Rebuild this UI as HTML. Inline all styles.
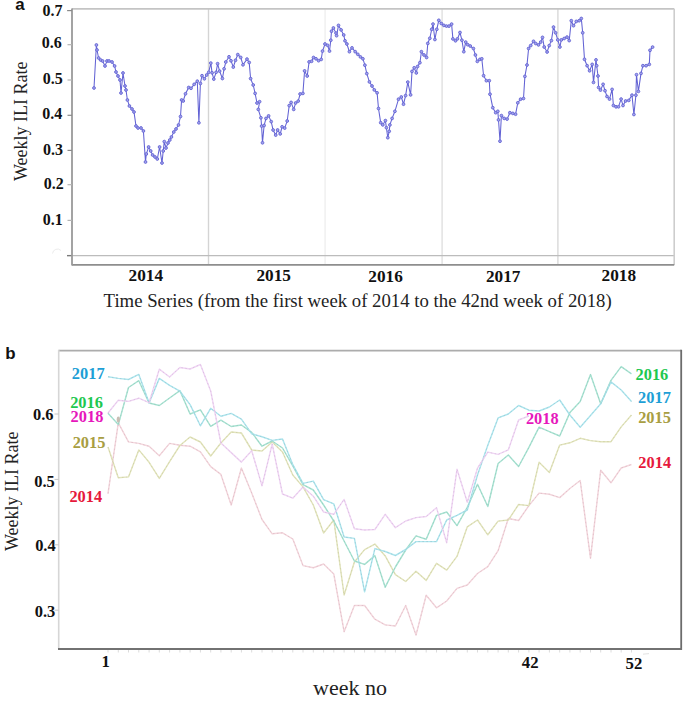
<!DOCTYPE html>
<html><head><meta charset="utf-8"><style>
html,body{margin:0;padding:0;background:#fff;width:685px;height:701px;overflow:hidden}
svg{display:block}
.s{font-family:"Liberation Serif",serif}
.b{font-family:"Liberation Serif",serif;font-weight:bold}
.ss{font-family:"Liberation Sans",sans-serif;font-weight:bold}
</style></head><body>
<svg width="685" height="701" viewBox="0 0 685 701">
<!-- Panel a -->
<text x="15.3" y="10.45" font-size="16.9" class="ss" fill="#111">a</text>
<text x="42.6" y="15.97" font-size="16.0" class="b" fill="#111">0.7</text>
<text x="41.75" y="47.8" font-size="16.0" class="b" fill="#111">0.6</text>
<text x="42.75" y="83.5" font-size="16.0" class="b" fill="#111">0.5</text>
<text x="42.15" y="119.4" font-size="16.0" class="b" fill="#111">0.4</text>
<text x="43.0" y="155.0" font-size="16.0" class="b" fill="#111">0.3</text>
<text x="43.75" y="188.8" font-size="16.0" class="b" fill="#111">0.2</text>
<text x="42.85" y="224.9" font-size="16.0" class="b" fill="#111">0.1</text>
<text x="128.55" y="281.45" font-size="17.25" class="b" fill="#111">2014</text>
<text x="256.45" y="281.45" font-size="17.25" class="b" fill="#111">2015</text>
<text x="368.35" y="281.85" font-size="17.25" class="b" fill="#111">2016</text>
<text x="485.95" y="281.85" font-size="17.25" class="b" fill="#111">2017</text>
<text x="601.55" y="281.3" font-size="17.25" class="b" fill="#111">2018</text>
<text x="5.25" y="358.75" font-size="16.9" class="ss" fill="#111">b</text>
<text x="32.95" y="420.15" font-size="16.45" class="b" fill="#111">0.6</text>
<text x="34.25" y="486.55" font-size="16.45" class="b" fill="#111">0.5</text>
<text x="35.15" y="551.25" font-size="16.45" class="b" fill="#111">0.4</text>
<text x="34.75" y="616.8" font-size="16.45" class="b" fill="#111">0.3</text>
<text x="71.8" y="379.2" font-size="16.4" class="b" fill="#1e9fd6">2017</text>
<text x="70.15" y="408.1" font-size="16.4" class="b" fill="#1ec850">2016</text>
<text x="70.6" y="421.75" font-size="16.4" class="b" fill="#e618bc">2018</text>
<text x="72.65" y="447.8" font-size="16.4" class="b" fill="#a89e42">2015</text>
<text x="69.4" y="501.9" font-size="16.4" class="b" fill="#e6193c">2014</text>
<text x="635.5" y="379.65" font-size="16.4" class="b" fill="#1ec850">2016</text>
<text x="638.1" y="403.05" font-size="16.4" class="b" fill="#1e9fd6">2017</text>
<text x="638.15" y="423.3" font-size="16.4" class="b" fill="#a89e42">2015</text>
<text x="638.3" y="468.15" font-size="16.4" class="b" fill="#e6193c">2014</text>
<text x="525.9" y="424.2" font-size="16.4" class="b" fill="#e618bc">2018</text>
<text x="101.4" y="666.7" font-size="16.75" class="b" fill="#111">1</text>
<text x="521.8" y="667.6" font-size="16.75" class="b" fill="#111">42</text>
<text x="625.5" y="669.3" font-size="16.75" class="b" fill="#111">52</text>

<g stroke-width="1.4">
<line x1="208.5" y1="9" x2="208.5" y2="264" stroke="#d4d4d4"/>
<line x1="325.1" y1="9" x2="325.1" y2="264" stroke="#efefef"/>
<line x1="442.1" y1="9" x2="442.1" y2="264" stroke="#e0e0e0"/>
<line x1="557.9" y1="9" x2="557.9" y2="264" stroke="#d9d9d9"/>
</g>
<line x1="67" y1="255.6" x2="674.2" y2="255.6" stroke="#bcbcbc" stroke-width="1.2"/>
<line x1="67" y1="255.6" x2="72" y2="255.6" stroke="#7a7a7a" stroke-width="1.3"/>
<line x1="72" y1="8.8" x2="674.2" y2="8.8" stroke="#c4c4c4" stroke-width="1.7"/>
<line x1="674.2" y1="8.8" x2="674.2" y2="264.9" stroke="#cdcdcd" stroke-width="1.6"/>
<line x1="72" y1="264.9" x2="674.2" y2="264.9" stroke="#8e8e8e" stroke-width="1.9"/>
<line x1="72" y1="8.5" x2="72" y2="265.5" stroke="#999" stroke-width="1.8"/>
<g stroke="#b4b4b4" stroke-width="1.2">
<line x1="67.1" y1="10.6" x2="72" y2="10.6" stroke="#8a8a8a"/>
<line x1="67.5" y1="44.7" x2="72" y2="44.7"/>
<line x1="67.5" y1="80" x2="72" y2="80"/>
<line x1="67.5" y1="115.3" x2="72" y2="115.3" stroke="#8a8a8a"/>
<line x1="67.5" y1="150.4" x2="72" y2="150.4" stroke="#8a8a8a"/>
<line x1="67.5" y1="184.7" x2="72" y2="184.7"/>
<line x1="67.5" y1="220.4" x2="72" y2="220.4"/>
</g>
<text class="s" font-size="18" fill="#222" transform="translate(27.1,181) rotate(-90)">Weekly ILI Rate</text>
<g style="filter:blur(0.3px)"><polyline points="94,88 96.4,45 97,50 98.6,58 100.6,60 102.6,61 105,66 107,61 109,61 112,62 114.6,66 116,72 118,76 120,80 121,93 123,73 125,86 126,90 127.4,100 129.4,106 132,109 134,112 136,126 138,128 141,128 143.4,131 145.5,162 146.3,154 148.6,147 150.7,151 152.6,155 155,157 157.3,159 159.6,147 162,163 163.2,151 164.3,141.6 166,148 168,143 169.8,140 171.4,137 173.8,132 176,129 178.5,125 180.5,116.5 181.6,100 183.2,101 185.5,93.8 188.7,87.5 191,88.3 194.2,84.3 197.3,81.2 198.9,122.8 200.4,83.5 202,75.7 204.4,78.8 206.7,75 208.7,72.3 210.8,63.1 212.1,72.8 213.8,79.1 216.1,72.3 217.6,63.7 219.6,71.1 222.4,78.5 224.1,68.8 225.8,62 229,56.8 231,60.8 233.3,67.1 235.5,60.3 237.8,54.6 240.7,57.4 243,64.8 247,59.1 249.2,62.5 250.6,78.6 253.2,85 255.1,93.4 257,103 259.6,101.7 258.3,109.4 260.9,117.8 261.6,126.1 262.5,142.8 264.1,125.5 266,118.4 268.6,115.9 271.2,121.6 273.1,130 275.7,135.1 277.6,130 280.2,133.9 282.1,126.8 284.7,128.1 287.2,121 289.2,105.6 291.1,102.4 293.7,109.4 295.6,103 298.2,101.1 300.1,94 302.9,93.4 304.6,70.9 307.2,76 309.1,61.9 311.6,61.3 313.5,57.5 316,58.8 318.6,60.7 321.2,59.4 322.5,51.1 325,44 327.6,45.3 329.5,51.1 330.8,40.2 331.5,31.2 333.4,28 336,33.1 336.6,35.7 338.5,25.4 341.1,29.9 343.7,35 345,40.8 346.9,44 349.4,51.7 352,47.9 355.2,51.7 357.8,54.3 360.4,56.9 362.9,58.8 364.9,65.2 366.8,73.6 369.4,81.9 372,86 374.3,89.9 377.1,92.8 378.5,108.5 380.7,122.7 382.8,124.9 385.4,120.6 386.4,127.7 387.8,137.7 389.2,131.3 389.9,124.9 392.1,118.4 394.9,111.3 398.5,99.2 401.3,97 403.5,104.2 405.6,95.6 407.8,82.1 410.6,94.9 412,71.4 414.2,67.8 416.3,72.9 417.6,66.5 419.9,62.7 421.4,51.7 424,55 426.6,57.5 427.8,43.4 429.8,38.3 431.7,29.3 433,24.1 434.9,39.5 436.8,29.3 438.8,20.3 441.3,23.5 443.9,25.4 446.5,26.1 449,26.1 451.6,24.1 452.9,38.9 455.5,40.8 457.4,38.9 460,32.5 461.9,40.2 463.8,51.7 465.7,42.1 467.7,44.7 470.2,46 473.4,48.5 475.4,55 477.3,61.4 479.9,59.4 481.8,58.8 483.6,75.7 486.4,80.7 489.3,80.7 490,94.2 492.8,107.7 495.7,112.7 497.8,111.3 498.5,119.9 500,141.2 501.4,115.6 504.2,118.4 507.1,119.1 509.9,112.7 512.8,113.4 515.6,114.2 517.8,102.8 520.6,99.2 523.5,98.5 524.9,76.4 527,65 528.6,48.5 530.7,45.6 533.5,41.3 535.7,43.5 538.5,44.9 540.7,42.1 542.5,37.4 544.2,47 547.1,52 549.2,45.6 551.4,40.6 553.5,27.1 555.6,32.8 557.8,39.9 559.9,47 561.3,39.9 564.2,38.5 567,37.1 569.2,40.6 571.3,20.7 573.5,25.7 576.3,21.4 579.2,20.7 581.3,18.5 582.7,32.8 584.5,59.3 587.1,65.7 589.6,70.8 592.2,64.4 593.5,82.4 596,59.9 596.7,65.7 598,76 598.6,87.5 600.5,90.1 603.1,84.3 605,90.7 607,96.5 609.5,99.1 612.1,89.4 613.4,105.5 616,106.8 618.5,106.8 621.1,99.1 623,105.5 625.6,101 628.8,100.4 632,95.2 633.9,114.5 635.9,95.2 636.5,74.7 638.4,91.4 641,73.4 642.9,65.7 646.1,65.7 649.3,64.4 650,50.3 652.6,47.1" fill="none" stroke="#6262d4" stroke-width="1.05"/>
<g fill="#a4a4ec" stroke="#6464d4" stroke-width="0.9"><circle cx="94" cy="88" r="1.4"/><circle cx="96.4" cy="45" r="1.4"/><circle cx="97" cy="50" r="1.4"/><circle cx="98.6" cy="58" r="1.4"/><circle cx="100.6" cy="60" r="1.4"/><circle cx="102.6" cy="61" r="1.4"/><circle cx="105" cy="66" r="1.4"/><circle cx="107" cy="61" r="1.4"/><circle cx="109" cy="61" r="1.4"/><circle cx="112" cy="62" r="1.4"/><circle cx="114.6" cy="66" r="1.4"/><circle cx="116" cy="72" r="1.4"/><circle cx="118" cy="76" r="1.4"/><circle cx="120" cy="80" r="1.4"/><circle cx="121" cy="93" r="1.4"/><circle cx="123" cy="73" r="1.4"/><circle cx="125" cy="86" r="1.4"/><circle cx="126" cy="90" r="1.4"/><circle cx="127.4" cy="100" r="1.4"/><circle cx="129.4" cy="106" r="1.4"/><circle cx="132" cy="109" r="1.4"/><circle cx="134" cy="112" r="1.4"/><circle cx="136" cy="126" r="1.4"/><circle cx="138" cy="128" r="1.4"/><circle cx="141" cy="128" r="1.4"/><circle cx="143.4" cy="131" r="1.4"/><circle cx="145.5" cy="162" r="1.4"/><circle cx="146.3" cy="154" r="1.4"/><circle cx="148.6" cy="147" r="1.4"/><circle cx="150.7" cy="151" r="1.4"/><circle cx="152.6" cy="155" r="1.4"/><circle cx="155" cy="157" r="1.4"/><circle cx="157.3" cy="159" r="1.4"/><circle cx="159.6" cy="147" r="1.4"/><circle cx="162" cy="163" r="1.4"/><circle cx="163.2" cy="151" r="1.4"/><circle cx="164.3" cy="141.6" r="1.4"/><circle cx="166" cy="148" r="1.4"/><circle cx="168" cy="143" r="1.4"/><circle cx="169.8" cy="140" r="1.4"/><circle cx="171.4" cy="137" r="1.4"/><circle cx="173.8" cy="132" r="1.4"/><circle cx="176" cy="129" r="1.4"/><circle cx="178.5" cy="125" r="1.4"/><circle cx="180.5" cy="116.5" r="1.4"/><circle cx="181.6" cy="100" r="1.4"/><circle cx="183.2" cy="101" r="1.4"/><circle cx="185.5" cy="93.8" r="1.4"/><circle cx="188.7" cy="87.5" r="1.4"/><circle cx="191" cy="88.3" r="1.4"/><circle cx="194.2" cy="84.3" r="1.4"/><circle cx="197.3" cy="81.2" r="1.4"/><circle cx="198.9" cy="122.8" r="1.4"/><circle cx="200.4" cy="83.5" r="1.4"/><circle cx="202" cy="75.7" r="1.4"/><circle cx="204.4" cy="78.8" r="1.4"/><circle cx="206.7" cy="75" r="1.4"/><circle cx="208.7" cy="72.3" r="1.4"/><circle cx="210.8" cy="63.1" r="1.4"/><circle cx="212.1" cy="72.8" r="1.4"/><circle cx="213.8" cy="79.1" r="1.4"/><circle cx="216.1" cy="72.3" r="1.4"/><circle cx="217.6" cy="63.7" r="1.4"/><circle cx="219.6" cy="71.1" r="1.4"/><circle cx="222.4" cy="78.5" r="1.4"/><circle cx="224.1" cy="68.8" r="1.4"/><circle cx="225.8" cy="62" r="1.4"/><circle cx="229" cy="56.8" r="1.4"/><circle cx="231" cy="60.8" r="1.4"/><circle cx="233.3" cy="67.1" r="1.4"/><circle cx="235.5" cy="60.3" r="1.4"/><circle cx="237.8" cy="54.6" r="1.4"/><circle cx="240.7" cy="57.4" r="1.4"/><circle cx="243" cy="64.8" r="1.4"/><circle cx="247" cy="59.1" r="1.4"/><circle cx="249.2" cy="62.5" r="1.4"/><circle cx="250.6" cy="78.6" r="1.4"/><circle cx="253.2" cy="85" r="1.4"/><circle cx="255.1" cy="93.4" r="1.4"/><circle cx="257" cy="103" r="1.4"/><circle cx="259.6" cy="101.7" r="1.4"/><circle cx="258.3" cy="109.4" r="1.4"/><circle cx="260.9" cy="117.8" r="1.4"/><circle cx="261.6" cy="126.1" r="1.4"/><circle cx="262.5" cy="142.8" r="1.4"/><circle cx="264.1" cy="125.5" r="1.4"/><circle cx="266" cy="118.4" r="1.4"/><circle cx="268.6" cy="115.9" r="1.4"/><circle cx="271.2" cy="121.6" r="1.4"/><circle cx="273.1" cy="130" r="1.4"/><circle cx="275.7" cy="135.1" r="1.4"/><circle cx="277.6" cy="130" r="1.4"/><circle cx="280.2" cy="133.9" r="1.4"/><circle cx="282.1" cy="126.8" r="1.4"/><circle cx="284.7" cy="128.1" r="1.4"/><circle cx="287.2" cy="121" r="1.4"/><circle cx="289.2" cy="105.6" r="1.4"/><circle cx="291.1" cy="102.4" r="1.4"/><circle cx="293.7" cy="109.4" r="1.4"/><circle cx="295.6" cy="103" r="1.4"/><circle cx="298.2" cy="101.1" r="1.4"/><circle cx="300.1" cy="94" r="1.4"/><circle cx="302.9" cy="93.4" r="1.4"/><circle cx="304.6" cy="70.9" r="1.4"/><circle cx="307.2" cy="76" r="1.4"/><circle cx="309.1" cy="61.9" r="1.4"/><circle cx="311.6" cy="61.3" r="1.4"/><circle cx="313.5" cy="57.5" r="1.4"/><circle cx="316" cy="58.8" r="1.4"/><circle cx="318.6" cy="60.7" r="1.4"/><circle cx="321.2" cy="59.4" r="1.4"/><circle cx="322.5" cy="51.1" r="1.4"/><circle cx="325" cy="44" r="1.4"/><circle cx="327.6" cy="45.3" r="1.4"/><circle cx="329.5" cy="51.1" r="1.4"/><circle cx="330.8" cy="40.2" r="1.4"/><circle cx="331.5" cy="31.2" r="1.4"/><circle cx="333.4" cy="28" r="1.4"/><circle cx="336" cy="33.1" r="1.4"/><circle cx="336.6" cy="35.7" r="1.4"/><circle cx="338.5" cy="25.4" r="1.4"/><circle cx="341.1" cy="29.9" r="1.4"/><circle cx="343.7" cy="35" r="1.4"/><circle cx="345" cy="40.8" r="1.4"/><circle cx="346.9" cy="44" r="1.4"/><circle cx="349.4" cy="51.7" r="1.4"/><circle cx="352" cy="47.9" r="1.4"/><circle cx="355.2" cy="51.7" r="1.4"/><circle cx="357.8" cy="54.3" r="1.4"/><circle cx="360.4" cy="56.9" r="1.4"/><circle cx="362.9" cy="58.8" r="1.4"/><circle cx="364.9" cy="65.2" r="1.4"/><circle cx="366.8" cy="73.6" r="1.4"/><circle cx="369.4" cy="81.9" r="1.4"/><circle cx="372" cy="86" r="1.4"/><circle cx="374.3" cy="89.9" r="1.4"/><circle cx="377.1" cy="92.8" r="1.4"/><circle cx="378.5" cy="108.5" r="1.4"/><circle cx="380.7" cy="122.7" r="1.4"/><circle cx="382.8" cy="124.9" r="1.4"/><circle cx="385.4" cy="120.6" r="1.4"/><circle cx="386.4" cy="127.7" r="1.4"/><circle cx="387.8" cy="137.7" r="1.4"/><circle cx="389.2" cy="131.3" r="1.4"/><circle cx="389.9" cy="124.9" r="1.4"/><circle cx="392.1" cy="118.4" r="1.4"/><circle cx="394.9" cy="111.3" r="1.4"/><circle cx="398.5" cy="99.2" r="1.4"/><circle cx="401.3" cy="97" r="1.4"/><circle cx="403.5" cy="104.2" r="1.4"/><circle cx="405.6" cy="95.6" r="1.4"/><circle cx="407.8" cy="82.1" r="1.4"/><circle cx="410.6" cy="94.9" r="1.4"/><circle cx="412" cy="71.4" r="1.4"/><circle cx="414.2" cy="67.8" r="1.4"/><circle cx="416.3" cy="72.9" r="1.4"/><circle cx="417.6" cy="66.5" r="1.4"/><circle cx="419.9" cy="62.7" r="1.4"/><circle cx="421.4" cy="51.7" r="1.4"/><circle cx="424" cy="55" r="1.4"/><circle cx="426.6" cy="57.5" r="1.4"/><circle cx="427.8" cy="43.4" r="1.4"/><circle cx="429.8" cy="38.3" r="1.4"/><circle cx="431.7" cy="29.3" r="1.4"/><circle cx="433" cy="24.1" r="1.4"/><circle cx="434.9" cy="39.5" r="1.4"/><circle cx="436.8" cy="29.3" r="1.4"/><circle cx="438.8" cy="20.3" r="1.4"/><circle cx="441.3" cy="23.5" r="1.4"/><circle cx="443.9" cy="25.4" r="1.4"/><circle cx="446.5" cy="26.1" r="1.4"/><circle cx="449" cy="26.1" r="1.4"/><circle cx="451.6" cy="24.1" r="1.4"/><circle cx="452.9" cy="38.9" r="1.4"/><circle cx="455.5" cy="40.8" r="1.4"/><circle cx="457.4" cy="38.9" r="1.4"/><circle cx="460" cy="32.5" r="1.4"/><circle cx="461.9" cy="40.2" r="1.4"/><circle cx="463.8" cy="51.7" r="1.4"/><circle cx="465.7" cy="42.1" r="1.4"/><circle cx="467.7" cy="44.7" r="1.4"/><circle cx="470.2" cy="46" r="1.4"/><circle cx="473.4" cy="48.5" r="1.4"/><circle cx="475.4" cy="55" r="1.4"/><circle cx="477.3" cy="61.4" r="1.4"/><circle cx="479.9" cy="59.4" r="1.4"/><circle cx="481.8" cy="58.8" r="1.4"/><circle cx="483.6" cy="75.7" r="1.4"/><circle cx="486.4" cy="80.7" r="1.4"/><circle cx="489.3" cy="80.7" r="1.4"/><circle cx="490" cy="94.2" r="1.4"/><circle cx="492.8" cy="107.7" r="1.4"/><circle cx="495.7" cy="112.7" r="1.4"/><circle cx="497.8" cy="111.3" r="1.4"/><circle cx="498.5" cy="119.9" r="1.4"/><circle cx="500" cy="141.2" r="1.4"/><circle cx="501.4" cy="115.6" r="1.4"/><circle cx="504.2" cy="118.4" r="1.4"/><circle cx="507.1" cy="119.1" r="1.4"/><circle cx="509.9" cy="112.7" r="1.4"/><circle cx="512.8" cy="113.4" r="1.4"/><circle cx="515.6" cy="114.2" r="1.4"/><circle cx="517.8" cy="102.8" r="1.4"/><circle cx="520.6" cy="99.2" r="1.4"/><circle cx="523.5" cy="98.5" r="1.4"/><circle cx="524.9" cy="76.4" r="1.4"/><circle cx="527" cy="65" r="1.4"/><circle cx="528.6" cy="48.5" r="1.4"/><circle cx="530.7" cy="45.6" r="1.4"/><circle cx="533.5" cy="41.3" r="1.4"/><circle cx="535.7" cy="43.5" r="1.4"/><circle cx="538.5" cy="44.9" r="1.4"/><circle cx="540.7" cy="42.1" r="1.4"/><circle cx="542.5" cy="37.4" r="1.4"/><circle cx="544.2" cy="47" r="1.4"/><circle cx="547.1" cy="52" r="1.4"/><circle cx="549.2" cy="45.6" r="1.4"/><circle cx="551.4" cy="40.6" r="1.4"/><circle cx="553.5" cy="27.1" r="1.4"/><circle cx="555.6" cy="32.8" r="1.4"/><circle cx="557.8" cy="39.9" r="1.4"/><circle cx="559.9" cy="47" r="1.4"/><circle cx="561.3" cy="39.9" r="1.4"/><circle cx="564.2" cy="38.5" r="1.4"/><circle cx="567" cy="37.1" r="1.4"/><circle cx="569.2" cy="40.6" r="1.4"/><circle cx="571.3" cy="20.7" r="1.4"/><circle cx="573.5" cy="25.7" r="1.4"/><circle cx="576.3" cy="21.4" r="1.4"/><circle cx="579.2" cy="20.7" r="1.4"/><circle cx="581.3" cy="18.5" r="1.4"/><circle cx="582.7" cy="32.8" r="1.4"/><circle cx="584.5" cy="59.3" r="1.4"/><circle cx="587.1" cy="65.7" r="1.4"/><circle cx="589.6" cy="70.8" r="1.4"/><circle cx="592.2" cy="64.4" r="1.4"/><circle cx="593.5" cy="82.4" r="1.4"/><circle cx="596" cy="59.9" r="1.4"/><circle cx="596.7" cy="65.7" r="1.4"/><circle cx="598" cy="76" r="1.4"/><circle cx="598.6" cy="87.5" r="1.4"/><circle cx="600.5" cy="90.1" r="1.4"/><circle cx="603.1" cy="84.3" r="1.4"/><circle cx="605" cy="90.7" r="1.4"/><circle cx="607" cy="96.5" r="1.4"/><circle cx="609.5" cy="99.1" r="1.4"/><circle cx="612.1" cy="89.4" r="1.4"/><circle cx="613.4" cy="105.5" r="1.4"/><circle cx="616" cy="106.8" r="1.4"/><circle cx="618.5" cy="106.8" r="1.4"/><circle cx="621.1" cy="99.1" r="1.4"/><circle cx="623" cy="105.5" r="1.4"/><circle cx="625.6" cy="101" r="1.4"/><circle cx="628.8" cy="100.4" r="1.4"/><circle cx="632" cy="95.2" r="1.4"/><circle cx="633.9" cy="114.5" r="1.4"/><circle cx="635.9" cy="95.2" r="1.4"/><circle cx="636.5" cy="74.7" r="1.4"/><circle cx="638.4" cy="91.4" r="1.4"/><circle cx="641" cy="73.4" r="1.4"/><circle cx="642.9" cy="65.7" r="1.4"/><circle cx="646.1" cy="65.7" r="1.4"/><circle cx="649.3" cy="64.4" r="1.4"/><circle cx="650" cy="50.3" r="1.4"/><circle cx="652.6" cy="47.1" r="1.4"/></g></g>
<text class="s" font-size="18.75" fill="#222" x="103.6" y="306.6">Time Series (from the first week of 2014 to the 42nd week of 2018)</text>

<!-- Panel b -->
<g fill="none" stroke-width="1.45" stroke-linejoin="round">
<polyline points="108.0,493.7 118.3,422.9 128.5,441.9 138.8,443.4 149.1,446.3 159.3,455.8 169.6,443.4 179.9,445.2 190.1,446.2 200.4,451.8 210.7,466.7 220.9,474.4 231.2,505.0 241.4,468.0 251.7,493.0 262.0,519.5 272.2,533.8 282.5,532.8 292.8,539.0 303.0,565.6 313.3,567.8 323.6,564.0 333.8,574.0 344.1,631.7 354.4,605.5 364.6,605.5 374.9,619.2 385.2,624.9 395.4,626.0 405.7,605.5 416.0,635.1 426.2,595.2 436.5,607.8 446.7,601.0 457.0,588.4 467.3,585.0 477.5,573.5 487.8,566.7 498.1,550.7 508.3,518.5 518.6,520.5 528.9,505.6 539.1,493.1 549.4,494.2 559.7,497.6 569.9,488.5 580.2,480.5 590.5,558.2 600.7,470.2 611.0,482.8 621.2,468.0 631.5,464.5" stroke="#f3d6dc"/>
<polyline points="108.0,447.0 118.3,477.7 128.5,476.9 138.8,449.9 149.1,462.3 159.3,478.4 169.6,461.6 179.9,445.5 190.1,437.0 200.4,442.0 210.7,456.0 220.9,443.0 231.2,432.0 241.4,433.0 251.7,450.0 262.0,451.0 272.2,442.0 282.5,452.0 292.8,475.0 303.0,486.9 313.3,505.0 323.6,533.0 333.8,520.0 344.1,595.0 354.4,562.0 364.6,549.6 374.9,544.1 385.2,555.9 395.4,574.7 405.7,581.5 416.0,571.3 426.2,580.4 436.5,563.3 446.7,570.1 457.0,556.4 467.3,526.8 477.5,520.0 487.8,534.8 498.1,521.1 508.3,520.0 518.6,504.5 528.9,505.6 539.1,462.2 549.4,472.5 559.7,445.1 569.9,442.8 580.2,438.3 590.5,440.6 600.7,441.7 611.0,441.7 621.2,426.9 631.5,415.0" stroke="#e2e4bc"/>
<polyline points="108.0,413.2 118.3,424.6 128.5,387.5 138.8,380.7 149.1,403.0 159.3,405.5 169.6,398.0 179.9,390.6 190.1,414.0 200.4,409.8 210.7,426.3 220.9,420.2 231.2,426.5 241.4,425.0 251.7,432.4 262.0,446.2 272.2,441.0 282.5,448.0 292.8,465.9 303.0,484.6 313.3,490.0 323.6,505.0 333.8,521.0 344.1,541.0 354.4,561.0 364.6,564.4 374.9,555.6 385.2,587.2 395.4,567.0 405.7,550.0 416.0,535.9 426.2,539.3 436.5,515.4 446.7,512.0 457.0,525.6 467.3,507.4 477.5,484.3 487.8,506.5 498.1,463.5 508.3,455.0 518.6,466.5 528.9,447.4 539.1,427.2 549.4,431.7 559.7,436.0 569.9,412.6 580.2,401.6 590.5,374.6 600.7,403.8 611.0,380.4 621.2,366.6 631.5,373.9" stroke="#a8e2d2"/>
<polyline points="108.0,376.7 118.3,378.4 128.5,379.5 138.8,374.4 149.1,403.0 159.3,378.4 169.6,385.4 179.9,391.2 190.1,404.6 200.4,425.8 210.7,408.3 220.9,416.3 231.2,413.4 241.4,419.2 251.7,433.8 262.0,436.8 272.2,440.4 282.5,439.0 292.8,464.7 303.0,483.4 313.3,481.1 323.6,499.7 333.8,503.9 344.1,537.0 354.4,538.4 364.6,591.8 374.9,548.6 385.2,551.5 395.4,555.5 405.7,549.5 416.0,541.6 426.2,541.6 436.5,541.6 446.7,520.0 457.0,515.4 467.3,510.0 477.5,475.0 487.8,445.3 498.1,417.9 508.3,414.0 518.6,405.5 528.9,410.2 539.1,411.0 549.4,407.0 559.7,400.0 569.9,415.0 580.2,427.2 590.5,415.5 600.7,403.8 611.0,381.9 621.2,390.0 631.5,401.6" stroke="#ade6ee"/>
<polyline points="108.0,413.0 118.3,400.3 128.5,401.4 138.8,398.2 149.1,402.7 159.3,369.2 169.6,377.0 179.9,367.5 190.1,369.0 200.4,364.5 210.7,391.0 220.9,443.0 231.2,452.6 241.4,462.1 251.7,450.7 262.0,485.8 272.2,444.0 282.5,494.0 292.8,498.2 303.0,487.0 313.3,496.2 323.6,512.0 333.8,514.3 344.1,499.4 354.4,528.7 364.6,530.0 374.9,529.5 385.2,514.3 395.4,527.7 405.7,521.0 416.0,517.6 426.2,516.5 436.5,507.7 446.7,542.7 457.0,469.2 467.3,502.3 477.5,468.1 487.8,452.1 498.1,454.4 508.3,449.9 518.6,420.0 528.9,416.0" stroke="#f0d6f4"/>
</g>
<g fill="none" stroke-width="1" stroke-dasharray="1.6 2.4" opacity="0.38">
<polyline points="108.0,493.7 118.3,422.9 128.5,441.9 138.8,443.4 149.1,446.3 159.3,455.8 169.6,443.4 179.9,445.2 190.1,446.2 200.4,451.8 210.7,466.7 220.9,474.4 231.2,505.0 241.4,468.0 251.7,493.0 262.0,519.5 272.2,533.8 282.5,532.8 292.8,539.0 303.0,565.6 313.3,567.8 323.6,564.0 333.8,574.0 344.1,631.7 354.4,605.5 364.6,605.5 374.9,619.2 385.2,624.9 395.4,626.0 405.7,605.5 416.0,635.1 426.2,595.2 436.5,607.8 446.7,601.0 457.0,588.4 467.3,585.0 477.5,573.5 487.8,566.7 498.1,550.7 508.3,518.5 518.6,520.5 528.9,505.6 539.1,493.1 549.4,494.2 559.7,497.6 569.9,488.5 580.2,480.5 590.5,558.2 600.7,470.2 611.0,482.8 621.2,468.0 631.5,464.5" stroke="#c8a0b0"/>
<polyline points="108.0,447.0 118.3,477.7 128.5,476.9 138.8,449.9 149.1,462.3 159.3,478.4 169.6,461.6 179.9,445.5 190.1,437.0 200.4,442.0 210.7,456.0 220.9,443.0 231.2,432.0 241.4,433.0 251.7,450.0 262.0,451.0 272.2,442.0 282.5,452.0 292.8,475.0 303.0,486.9 313.3,505.0 323.6,533.0 333.8,520.0 344.1,595.0 354.4,562.0 364.6,549.6 374.9,544.1 385.2,555.9 395.4,574.7 405.7,581.5 416.0,571.3 426.2,580.4 436.5,563.3 446.7,570.1 457.0,556.4 467.3,526.8 477.5,520.0 487.8,534.8 498.1,521.1 508.3,520.0 518.6,504.5 528.9,505.6 539.1,462.2 549.4,472.5 559.7,445.1 569.9,442.8 580.2,438.3 590.5,440.6 600.7,441.7 611.0,441.7 621.2,426.9 631.5,415.0" stroke="#b8b890"/>
<polyline points="108.0,413.2 118.3,424.6 128.5,387.5 138.8,380.7 149.1,403.0 159.3,405.5 169.6,398.0 179.9,390.6 190.1,414.0 200.4,409.8 210.7,426.3 220.9,420.2 231.2,426.5 241.4,425.0 251.7,432.4 262.0,446.2 272.2,441.0 282.5,448.0 292.8,465.9 303.0,484.6 313.3,490.0 323.6,505.0 333.8,521.0 344.1,541.0 354.4,561.0 364.6,564.4 374.9,555.6 385.2,587.2 395.4,567.0 405.7,550.0 416.0,535.9 426.2,539.3 436.5,515.4 446.7,512.0 457.0,525.6 467.3,507.4 477.5,484.3 487.8,506.5 498.1,463.5 508.3,455.0 518.6,466.5 528.9,447.4 539.1,427.2 549.4,431.7 559.7,436.0 569.9,412.6 580.2,401.6 590.5,374.6 600.7,403.8 611.0,380.4 621.2,366.6 631.5,373.9" stroke="#80b8a8"/>
<polyline points="108.0,376.7 118.3,378.4 128.5,379.5 138.8,374.4 149.1,403.0 159.3,378.4 169.6,385.4 179.9,391.2 190.1,404.6 200.4,425.8 210.7,408.3 220.9,416.3 231.2,413.4 241.4,419.2 251.7,433.8 262.0,436.8 272.2,440.4 282.5,439.0 292.8,464.7 303.0,483.4 313.3,481.1 323.6,499.7 333.8,503.9 344.1,537.0 354.4,538.4 364.6,591.8 374.9,548.6 385.2,551.5 395.4,555.5 405.7,549.5 416.0,541.6 426.2,541.6 436.5,541.6 446.7,520.0 457.0,515.4 467.3,510.0 477.5,475.0 487.8,445.3 498.1,417.9 508.3,414.0 518.6,405.5 528.9,410.2 539.1,411.0 549.4,407.0 559.7,400.0 569.9,415.0 580.2,427.2 590.5,415.5 600.7,403.8 611.0,381.9 621.2,390.0 631.5,401.6" stroke="#88aab8"/>
<polyline points="108.0,413.0 118.3,400.3 128.5,401.4 138.8,398.2 149.1,402.7 159.3,369.2 169.6,377.0 179.9,367.5 190.1,369.0 200.4,364.5 210.7,391.0 220.9,443.0 231.2,452.6 241.4,462.1 251.7,450.7 262.0,485.8 272.2,444.0 282.5,494.0 292.8,498.2 303.0,487.0 313.3,496.2 323.6,512.0 333.8,514.3 344.1,499.4 354.4,528.7 364.6,530.0 374.9,529.5 385.2,514.3 395.4,527.7 405.7,521.0 416.0,517.6 426.2,516.5 436.5,507.7 446.7,542.7 457.0,469.2 467.3,502.3 477.5,468.1 487.8,452.1 498.1,454.4 508.3,449.9 518.6,420.0 528.9,416.0" stroke="#c0a0c8"/>
</g>
<line x1="58.7" y1="350.6" x2="681.2" y2="350.6" stroke="#acacac" stroke-width="1.7"/>
<line x1="681.2" y1="349.8" x2="681.2" y2="649.9" stroke="#6c6c6c" stroke-width="1.8"/>
<line x1="58.7" y1="349.8" x2="58.7" y2="649" stroke="#d6d6d6" stroke-width="1.6"/>
<line x1="58" y1="649.05" x2="682" y2="649.05" stroke="#727272" stroke-width="1.9"/>
<g stroke="#dcdcdc" stroke-width="1"><line x1="108.0" y1="650" x2="108.0" y2="652.5"/><line x1="118.3" y1="650" x2="118.3" y2="652.5"/><line x1="128.5" y1="650" x2="128.5" y2="652.5"/><line x1="138.8" y1="650" x2="138.8" y2="652.5"/><line x1="149.1" y1="650" x2="149.1" y2="652.5"/><line x1="159.3" y1="650" x2="159.3" y2="652.5"/><line x1="169.6" y1="650" x2="169.6" y2="652.5"/><line x1="179.9" y1="650" x2="179.9" y2="652.5"/><line x1="190.1" y1="650" x2="190.1" y2="652.5"/><line x1="200.4" y1="650" x2="200.4" y2="652.5"/><line x1="210.7" y1="650" x2="210.7" y2="652.5"/><line x1="220.9" y1="650" x2="220.9" y2="652.5"/><line x1="231.2" y1="650" x2="231.2" y2="652.5"/><line x1="241.4" y1="650" x2="241.4" y2="652.5"/><line x1="251.7" y1="650" x2="251.7" y2="652.5"/><line x1="262.0" y1="650" x2="262.0" y2="652.5"/><line x1="272.2" y1="650" x2="272.2" y2="652.5"/><line x1="282.5" y1="650" x2="282.5" y2="652.5"/><line x1="292.8" y1="650" x2="292.8" y2="652.5"/><line x1="303.0" y1="650" x2="303.0" y2="652.5"/><line x1="313.3" y1="650" x2="313.3" y2="652.5"/><line x1="323.6" y1="650" x2="323.6" y2="652.5"/><line x1="333.8" y1="650" x2="333.8" y2="652.5"/><line x1="344.1" y1="650" x2="344.1" y2="652.5"/><line x1="354.4" y1="650" x2="354.4" y2="652.5"/><line x1="364.6" y1="650" x2="364.6" y2="652.5"/><line x1="374.9" y1="650" x2="374.9" y2="652.5"/><line x1="385.2" y1="650" x2="385.2" y2="652.5"/><line x1="395.4" y1="650" x2="395.4" y2="652.5"/><line x1="405.7" y1="650" x2="405.7" y2="652.5"/><line x1="416.0" y1="650" x2="416.0" y2="652.5"/><line x1="426.2" y1="650" x2="426.2" y2="652.5"/><line x1="436.5" y1="650" x2="436.5" y2="652.5"/><line x1="446.7" y1="650" x2="446.7" y2="652.5"/><line x1="457.0" y1="650" x2="457.0" y2="652.5"/><line x1="467.3" y1="650" x2="467.3" y2="652.5"/><line x1="477.5" y1="650" x2="477.5" y2="652.5"/><line x1="487.8" y1="650" x2="487.8" y2="652.5"/><line x1="498.1" y1="650" x2="498.1" y2="652.5"/><line x1="508.3" y1="650" x2="508.3" y2="652.5"/><line x1="518.6" y1="650" x2="518.6" y2="652.5"/><line x1="528.9" y1="650" x2="528.9" y2="652.5"/><line x1="539.1" y1="650" x2="539.1" y2="652.5"/><line x1="549.4" y1="650" x2="549.4" y2="652.5"/><line x1="559.7" y1="650" x2="559.7" y2="652.5"/><line x1="569.9" y1="650" x2="569.9" y2="652.5"/><line x1="580.2" y1="650" x2="580.2" y2="652.5"/><line x1="590.5" y1="650" x2="590.5" y2="652.5"/><line x1="600.7" y1="650" x2="600.7" y2="652.5"/><line x1="611.0" y1="650" x2="611.0" y2="652.5"/><line x1="621.2" y1="650" x2="621.2" y2="652.5"/><line x1="631.5" y1="650" x2="631.5" y2="652.5"/></g>
<path d="M52.5,253.5 A5,5 0 0 1 61,250.5" fill="none" stroke="#ececec" stroke-width="1"/>
<line x1="643" y1="654.2" x2="649" y2="653.6" stroke="#e2e2e2" stroke-width="1"/>
<ellipse cx="118.3" cy="419.5" rx="1.6" ry="3" fill="#c9bdb4"/>
<g stroke="#c8c8c8" stroke-width="1">
<line x1="54.5" y1="414" x2="58.8" y2="414"/>
<line x1="54.5" y1="479.4" x2="58.8" y2="479.4"/>
<line x1="54.5" y1="544.8" x2="58.8" y2="544.8"/>
<line x1="54.5" y1="610.2" x2="58.8" y2="610.2"/>
</g>
<text class="s" font-size="18" fill="#222" transform="translate(18.2,551.1) rotate(-90)">Weekly ILI Rate</text>
<text class="s" font-size="22" fill="#222" x="313.1" y="695.2">week no</text>
</svg>
</body></html>
